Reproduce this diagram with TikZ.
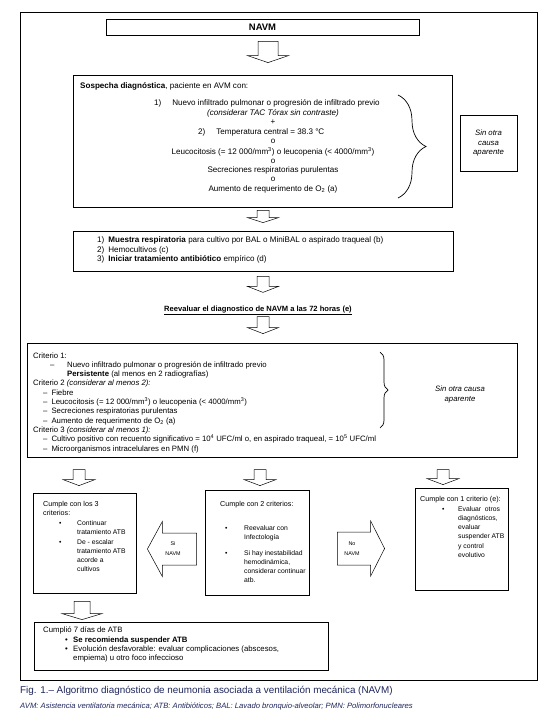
\documentclass[tikz,border=0pt]{standalone}
\usepackage{fontspec}
\setmainfont{Liberation Sans}
\usetikzlibrary{calc,decorations.pathreplacing}

\definecolor{capnavy}{RGB}{30,38,92}

% block arrow pointing down: top, tip, half shaft, half head, head length
\newcommand{\blockdown}[5]{%
  \draw[blk] let \p1=(#1), \p2=(#2) in
    (\x1-#3,\y1) -- (\x1+#3,\y1) -- (\x1+#3,\y2+#5) -- (\x1+#4,\y2+#5)
    -- (\x1,\y2) -- (\x1-#4,\y2+#5) -- (\x1-#3,\y2+#5) -- cycle;}
% block arrow sideways: tail, tip, half shaft, half head, head base offset
\newcommand{\blockside}[5]{%
  \draw[blk] let \p1=(#1), \p2=(#2), \n1={#5} in
    (\x1,\y1+#3) -- ({\x2+\n1},\y1+#3) -- ({\x2+\n1},\y1+#4) -- (\x2,\y1)
    -- ({\x2+\n1},\y1-#4) -- ({\x2+\n1},\y1-#3) -- (\x1,\y1-#3) -- cycle;}

\begin{document}
\begin{tikzpicture}[x=1bp,y=-1bp,
    box/.style={draw, line width=0.8bp, inner sep=0pt},
    blk/.style={draw, fill=white, line width=0.5bp},
    tx/.style={inner sep=0pt, anchor=base west, font=\fontsize{7.8}{9.3}\selectfont},
    tc/.style={tx, anchor=base},
    tb/.style={tx, font=\fontsize{8.1}{9.3}\selectfont},
    tbc/.style={tb, anchor=base},
    t5/.style={tx, font=\fontsize{7.2}{9}\selectfont},
    t6/.style={tx, font=\fontsize{6.8}{9}\selectfont},
    brc/.style={decorate, line width=0.7bp}]
    \useasboundingbox (0,0) rectangle (558,726);

    % Outer frame
    \draw[line width=0.7bp] (20,12) rectangle (537,680);

    % Boxes
    \node[box, minimum width=313bp, minimum height=16bp] (navm) at (262.5,27)
        {\fontsize{9.5}{11}\selectfont\bfseries NAVM};
    \node[box, minimum width=379bp, minimum height=132bp] (sosp) at (262.5,141) {};
    \node[box, minimum width=57bp, minimum height=56bp, align=center,
        font=\fontsize{7.8}{10}\selectfont\itshape] (sinotra) at (488.5,143)
        {Sin otra\\causa\\aparente};
    \node[box, minimum width=380bp, minimum height=40bp] (muestra) at (263,251) {};
    \node[box, minimum width=490bp, minimum height=114bp] (crit) at (272,400) {};
    \node[box, minimum width=103bp, minimum height=100bp] (tres) at (84.5,543) {};
    \node[box, minimum width=104bp, minimum height=105bp] (dos) at (257,542.5) {};
    \node[box, minimum width=93bp, minimum height=102bp] (uno) at (461.5,539) {};
    \node[box, minimum width=294bp, minimum height=48bp] (siete) at (181,646) {};

    % Sospecha diagnostica
    \node[tb] (s0) at (80,89) {\textbf{Sospecha diagnóstica}, paciente en AVM con:};
    \node[tb] (s1) at (154,106) {1)\hspace{11bp}Nuevo infiltrado pulmonar o progresión de infiltrado previo};
    \node[tbc] (s2) at (273,116) {\itshape (considerar TAC Tórax sin contraste)};
    \node[tbc] (s3) at (273,125) {+};
    \node[tb] (s4) at (198,135) {2)\hspace{11bp}Temperatura central = 38.3 °C};
    \node[tbc] (s5) at (273,144) {o};
    \node[tbc] (s6) at (273,154) {Leucocitosis (= 12 000/mm\textsuperscript{3}) o leucopenia (< 4000/mm\textsuperscript{3})};
    \node[tbc] (s7) at (273,163) {o};
    \node[tbc] (s8) at (273,172) {Secreciones respiratorias purulentas};
    \node[tbc] (s9) at (273,181) {o};
    \node[tbc] (s10) at (273,191) {Aumento de requerimento de O\textsubscript{2} (a)};
    \draw[brc, decoration={brace, amplitude=28bp}] (398,95) -- (398,198);

    % Muestras
    \node[tb] (m1) at (97,242) {1)\hspace{4bp}\textbf{Muestra respiratoria} para cultivo por BAL o MiniBAL o aspirado traqueal (b)};
    \node[tb] (m2) at (97,252) {2)\hspace{4bp}Hemocultivos (c)};
    \node[tb] (m3) at (97,261) {3)\hspace{4bp}\textbf{Iniciar tratamiento antibiótico} empírico (d)};

    \node[tc, font=\fontsize{7.6}{9}\selectfont\bfseries] (reev) at (258,311)
        {\underline{Reevaluar el diagnostico de NAVM a las 72 horas (e)}};

    % Criterios
    \node[tx] (c1) at (33,358) {Criterio 1:};
    \node[tx] (c2) at (50,367.3) {–};
    \node[tx] (c2t) at (67,367.3) {Nuevo infiltrado pulmonar o progresión de infiltrado previo};
    \node[tx] (c3) at (67,376.6) {\textbf{Persistente} (al menos en 2 radiografías)};
    \node[tx] (c4) at (33,385.9) {Criterio 2 \textit{(considerar al menos 2):}};
    \node[tx] (c5) at (43,395.2) {–\hspace{4bp}Fiebre};
    \node[tx] (c6) at (43,404.5) {–\hspace{4bp}Leucocitosis (= 12 000/mm\textsuperscript{3}) o leucopenia (< 4000/mm\textsuperscript{3})};
    \node[tx] (c7) at (43,413.8) {–\hspace{4bp}Secreciones respiratorias purulentas};
    \node[tx] (c8) at (43,423.1) {–\hspace{4bp}Aumento de requerimento de O\textsubscript{2} (a)};
    \node[tx] (c9) at (33,432.4) {Criterio 3 \textit{(considerar al menos 1):}};
    \node[tx] (c10) at (43,441.7) {–\hspace{4bp}Cultivo positivo con recuento significativo = 10\textsuperscript{4} UFC/ml o, en aspirado traqueal, = 10\textsuperscript{5} UFC/ml};
    \node[tx] (c11) at (43,451) {–\hspace{4bp}Microorganismos intracelulares en PMN (f)};
    \draw[brc, decoration={brace, amplitude=8bp}] (380,352) -- (380,428);
    \node[tc, font=\fontsize{7.8}{9.3}\selectfont\itshape] (c12) at (460,391) {Sin otra causa};
    \node[tc, font=\fontsize{7.8}{9.3}\selectfont\itshape] (c13) at (460,401) {aparente};

    % Cumple con los 3 criterios
    \node[t5] (t1) at (43,506) {Cumple con los 3};
    \node[t5] (t2) at (43,515) {criterios:};
    \foreach \y in {525,544}
        \node[t6] at (59,\y) {\textbullet};
    \foreach \l [count=\i] in {Continuar, tratamiento ATB, De - escalar, tratamiento ATB, acorde a, cultivos}
        \node[t6] (t3\i) at (77,{525+9.3*(\i-1)+(\i>2)*0.4}) {\l};

    % Cumple con 2 criterios
    \node[t5] (d1) at (220,506) {Cumple con 2 criterios:};
    \foreach \y in {530,555}
        \node[t6] at (225,\y) {\textbullet};
    \node[t6] (d2) at (244,530) {Reevaluar con};
    \node[t6] (d3) at (244,539) {Infectología};
    \foreach \l [count=\i] in {Si hay inestabilidad, {hemodinámica,}, considerar continuar, atb.}
        \node[t6] (d4\i) at (244,{555+9*(\i-1)}) {\l};

    % Cumple con 1 criterio
    \node[t5] (u1) at (420,501) {Cumple con 1 criterio (e):};
    \node[t6] (u2) at (442,511) {\textbullet};
    \foreach \l [count=\i] in {Evaluar\ \ otros, {diagnósticos,}, evaluar, suspender ATB, y control, evolutivo}
        \node[t6] (u3\i) at (458,{511+9.3*(\i-1)}) {\l};

    % Cumplio 7 dias
    \node[tx] (p1) at (43,632) {Cumplió 7 días de ATB};
    \node[tx] (p2) at (65,642) {\textbullet};
    \node[tx] (p3) at (65,651) {\textbullet};
    \node[tx] (p4) at (73,642) {\textbf{Se recomienda suspender ATB}};
    \node[tx] (p5) at (73,651) {Evolución desfavorable: evaluar complicaciones (abscesos,};
    \node[tx] (p6) at (73,660) {empiema) u otro foco infeccioso};

    % Block arrows
    \coordinate (a1t) at ($(navm.south)+(5.5,6)$);
    \coordinate (a1h) at ($(sosp.north)+(5.5,-12)$);
    \blockdown{a1t}{a1h}{10bp}{20.5bp}{7bp}
    \coordinate (a2t) at ($(sosp.south)+(0.5,3)$);
    \coordinate (a2h) at ($(muestra.north)+(0,-8)$);
    \blockdown{a2t}{a2h}{6bp}{15.5bp}{5bp}
    \coordinate (a3t) at ($(muestra.south)+(0,5)$);
    \coordinate (a3h) at ($(muestra.south)+(0,21)$);
    \blockdown{a3t}{a3h}{6bp}{15.5bp}{6bp}
    \coordinate (a4t) at ($(crit.north)+(-9,-26)$);
    \coordinate (a4h) at ($(crit.north)+(-9,-9)$);
    \blockdown{a4t}{a4h}{6bp}{15.5bp}{6bp}
    \coordinate (a5t) at ($(tres.north)+(-5.5,-23)$);
    \coordinate (a5h) at ($(tres.north)+(-5.5,-7)$);
    \blockdown{a5t}{a5h}{6bp}{16bp}{6bp}
    \coordinate (a6t) at ($(dos.north)+(3,-20)$);
    \coordinate (a6h) at ($(dos.north)+(3,-4)$);
    \blockdown{a6t}{a6h}{6bp}{16bp}{6bp}
    \coordinate (a7t) at ($(uno.north)+(-18.5,-18)$);
    \coordinate (a7h) at ($(uno.north)+(-18.5,-3)$);
    \blockdown{a7t}{a7h}{6bp}{16bp}{6bp}
    \coordinate (a8t) at ($(tres.south)+(-2.5,8)$);
    \coordinate (a8h) at ($(siete.north)+(-99,-2)$);
    \blockdown{a8t}{a8h}{8bp}{20bp}{6bp}

    % Si / No NAVM
    \coordinate (sit) at ($(dos.west)+(-8,6.5)$);
    \coordinate (sih) at ($(tres.east)+(11,6.5)$);
    \blockside{sit}{sih}{16bp}{27.5bp}{15}
    \coordinate (not) at ($(dos.east)+(28,6)$);
    \coordinate (noh) at ($(uno.west)+(-30,6)$);
    \blockside{not}{noh}{16.5bp}{27.5bp}{-14}
    \node[tc, font=\fontsize{5.4}{9}\selectfont] (si1) at (173,545) {Si};
    \node[tc, font=\fontsize{5.4}{9}\selectfont] (si2) at (173,555) {NAVM};
    \node[tc, font=\fontsize{5.4}{9}\selectfont] (no1) at (352,545) {No};
    \node[tc, font=\fontsize{5.4}{9}\selectfont] (no2) at (352,555) {NAVM};

    % Caption
    \node[tx, text=capnavy, font=\fontsize{9.9}{11}\selectfont] (cap1) at (20,693)
        {Fig. 1.– Algoritmo diagnóstico de neumonia asociada a ventilación mecánica (NAVM)};
    \node[tx, text=capnavy, font=\fontsize{7.7}{10}\selectfont\itshape] (cap2) at (20,708)
        {AVM: Asistencia ventilatoria mecánica; ATB: Antibióticos; BAL: Lavado bronquio-alveolar; PMN: Polimorfonucleares};
\end{tikzpicture}
\end{document}
